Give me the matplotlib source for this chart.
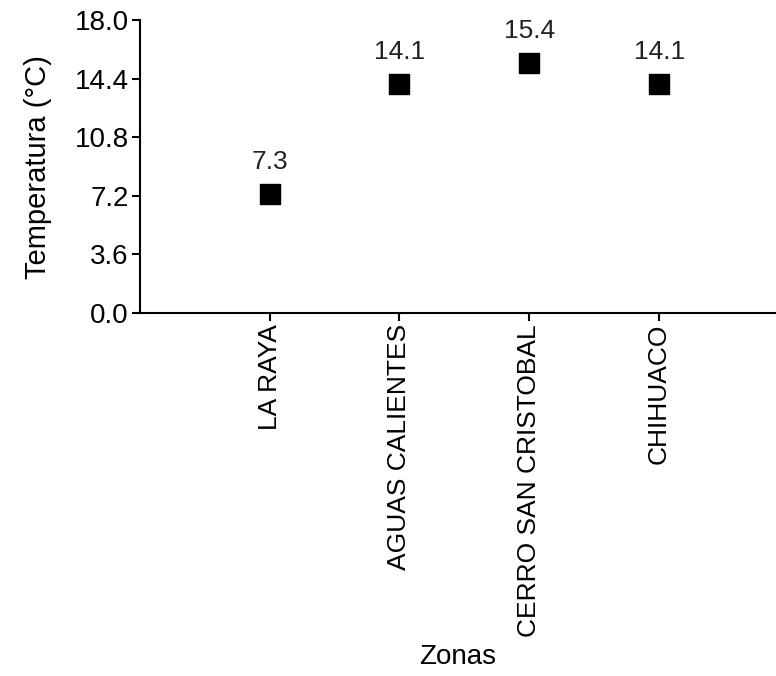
import matplotlib
matplotlib.use('Agg')
import matplotlib.pyplot as plt

# Temperatura media por zona
zonas = ['LA RAYA', 'AGUAS CALIENTES', 'CERRO SAN CRISTOBAL', 'CHIHUACO']
temperatura = [7.3, 14.1, 15.4, 14.1]
yticks = [0.0, 3.6, 7.2, 10.8, 14.4, 18.0]

plt.rcParams['font.family'] = ['Liberation Sans', 'DejaVu Sans']

fig = plt.figure(figsize=(7.76, 6.76), dpi=100)
ax = fig.add_axes([0.180, 0.537, 0.82, 0.433])

pos = list(range(len(zonas)))
ax.scatter(pos, temperatura, marker='s', s=200, c='black', zorder=3)

# Valores encima de cada punto
for x, v in zip(pos, temperatura):
    ax.annotate('%.1f' % v, (x, v), xytext=(0, 23), textcoords='offset points',
                ha='center', va='center', fontsize=19, color='#222222')

ax.set_xlim(-1, 3.9)
ax.set_ylim(0, 18)
ax.set_yticks(yticks)
ax.set_yticklabels(['%.1f' % t for t in yticks])
ax.set_xticks(pos)
ax.set_xticklabels(zonas, rotation=90, fontsize=19)

for side in ('top', 'right'):
    ax.spines[side].set_visible(False)
for side in ('left', 'bottom'):
    ax.spines[side].set_linewidth(1.5)
ax.tick_params(axis='both', direction='out', length=6, width=1.5,
               colors='black', pad=2)
ax.tick_params(axis='y', labelsize=20)

ax.set_ylabel('Temperatura (°C)', fontsize=21, labelpad=16)
ax.set_xlabel('Zonas', fontsize=20, labelpad=5)

fig.savefig('out.png', dpi=100)
